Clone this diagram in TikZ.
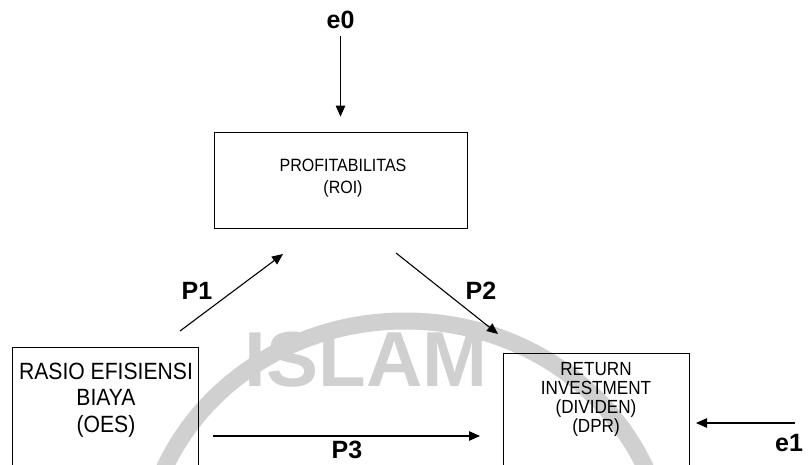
\documentclass[tikz,border=0pt]{standalone}
\usepackage{fontspec}
\setmainfont{Liberation Sans}
\newfontfamily\narrowfont{Liberation Sans}[FakeStretch=0.9]
\usetikzlibrary{arrows.meta}
\definecolor{wm}{RGB}{208,208,208}
\begin{document}
\begin{tikzpicture}[x=1pt,y=-1pt,
  arr/.style={line width=1.1pt,-{Triangle[length=11pt,width=9.5pt]}},
  box/.style={draw,line width=0.8pt,inner sep=0pt},
  lbl/.style={font=\fontsize{25}{28}\selectfont\bfseries,inner sep=1pt},
  txtA/.style={align=center,inner sep=0pt,font=\narrowfont\fontsize{17.8}{22}\selectfont},
  txtB/.style={align=center,inner sep=0pt,font=\narrowfont\fontsize{23.5}{26.5}\selectfont},
  txtC/.style={align=center,inner sep=0pt,font=\narrowfont\fontsize{19}{19}\selectfont}
]
\clip (0,0) rectangle (811,465);
% watermark
\draw[wm, line width=17pt] (405,565) ellipse [x radius=262, y radius=244];
\node[text=wm, font=\fontsize{78}{78}\selectfont\bfseries, inner sep=0pt] (wmtext) at (366,360) {ISLAM};

% nodes
\node[lbl] (e0) at (340.5,20) {e0};
\node[box, minimum width=253pt, minimum height=96pt] (roi) at (340.5,180) {};
\node[txtA] (roiT) at (343,178) {PROFITABILITAS\\(ROI)};

\node[box, minimum width=186pt, minimum height=200pt] (oes) at (105,447) {};
\node[txtB] (oesT) at (106,400) {RASIO EFISIENSI\\BIAYA\\(OES)};

\node[box, minimum width=186pt, minimum height=200pt] (dpr) at (596,453) {};
\node[txtC] (dprT) at (596,399) {RETURN\\INVESTMENT\\(DIVIDEN)\\(DPR)};

\node[lbl] (P1) at (197,291) {P1};
\node[lbl] (P2) at (481,291) {P2};
\node[lbl] (P3) at (347,450) {P3};
\node[lbl] (e1) at (789,443) {e1};

% connector ends
\coordinate (p1a) at (180,331);
\coordinate (p1b) at (283,254);
\coordinate (p2a) at (396,253);
\coordinate (p2b) at (498,334);
\coordinate (p3a) at (213,436);
\coordinate (p3b) at (480,436);
\coordinate (e1a) at (795,423);
\coordinate (e1b) at (696,423);

% connectors
\draw[arr, shorten <=6pt, shorten >=15pt] (e0) -- (roi);
\draw[arr] (p1a) -- (p1b);
\draw[arr] (p2a) -- (p2b);
\draw[arr] (p3a) -- (p3b);
\draw[arr] (e1a) -- (e1b);
\end{tikzpicture}
\end{document}
